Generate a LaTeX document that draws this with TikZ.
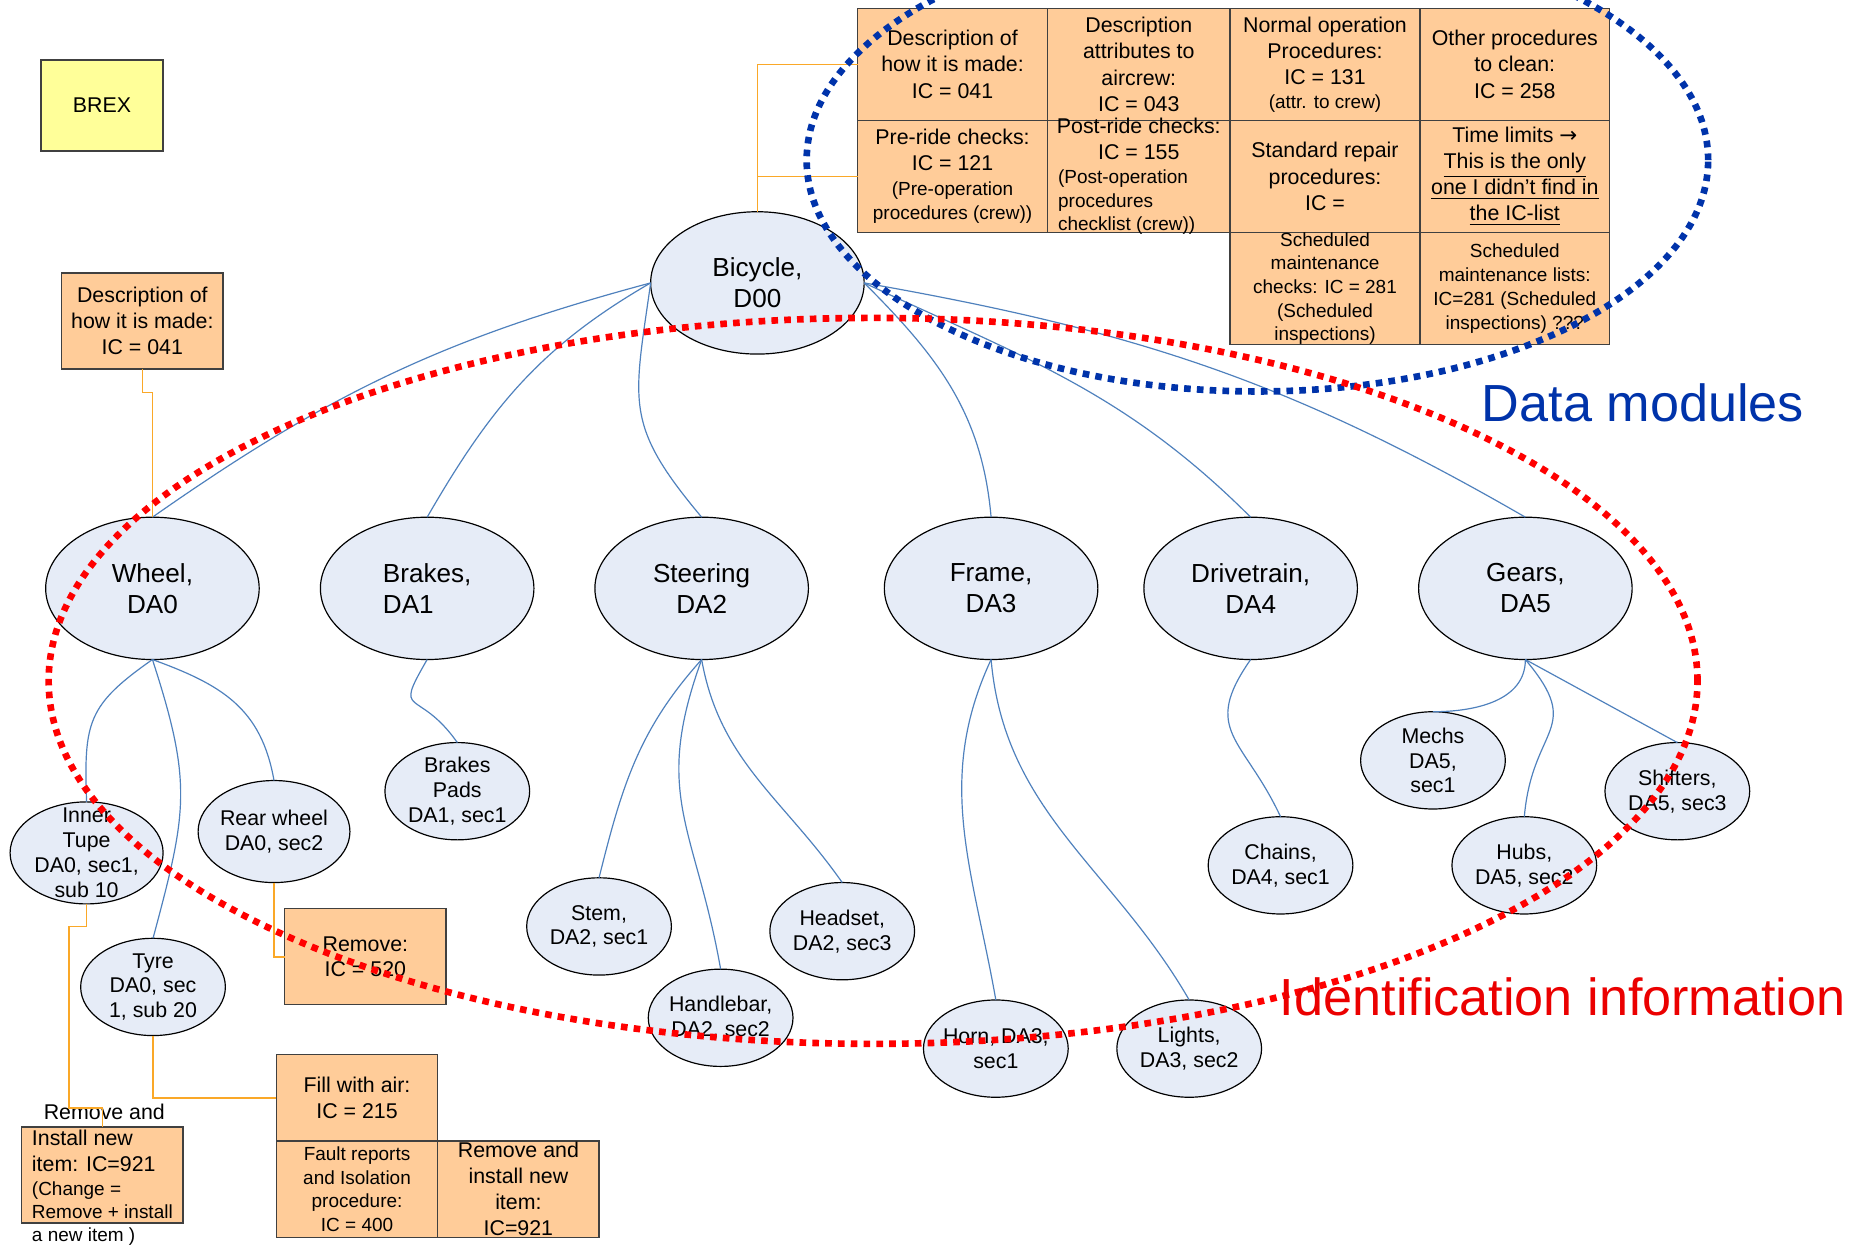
\documentclass[tikz,border=0pt]{standalone}
\usepackage{fontspec}
\setmainfont{Liberation Sans}
\newfontfamily\arrowfont{DejaVu Sans}
\usepackage{tikz}
\usetikzlibrary{shapes.geometric}
\usetikzlibrary{positioning}

\definecolor{partfill}{RGB}{230,236,247}
\definecolor{boxfill}{RGB}{255,204,153}
\definecolor{brexfill}{RGB}{255,255,153}
\definecolor{treeline}{RGB}{79,129,189}
\definecolor{icline}{RGB}{250,168,40}
\definecolor{dmblue}{RGB}{0,51,170}
\definecolor{idred}{RGB}{235,0,0}

\newcommand{\smalltxt}{\fontsize{8}{10}\selectfont}

\tikzset{
  part/.style={ellipse, draw=black, line width=0.5pt, fill=partfill, minimum width=90pt, minimum height=60pt, inner sep=0pt, outer sep=0pt, align=center, font=\fontsize{11}{13}\selectfont},
  subpart/.style={part, minimum width=61pt, minimum height=41pt, inner sep=-10pt, font=\fontsize{9}{10.5}\selectfont},
  icbox/.style={rectangle, draw=black!75, line width=0.6pt, fill=boxfill, minimum width=68pt, minimum height=40.5pt, inner sep=-15pt, outer sep=0pt, align=center, font=\fontsize{9}{11}\selectfont},
  cell/.style={icbox, minimum width=80pt, minimum height=47.25pt},
  tree/.style={draw=treeline, line width=0.5pt},
  icwire/.style={draw=icline, line width=0.7pt},
  dotring/.style={line width=2.8pt, dash pattern=on 2.8pt off 2.6pt},
}

\begin{document}
\begin{tikzpicture}[x=0.5pt, y=0.5pt]
\useasboundingbox[fill=white] (0,0) rectangle (1568,-1053);

    %nodes
    \node[part] (bicycle) at (638.5,-238.5) {Bicycle,\\D00};
    \node[part] (wheel) at (128.5,-496) {Wheel,\\DA0};
    \node[part, right=25.8pt of wheel, align=left] (brakes) {Brakes,\\DA1};
    \node[part, right=25.7pt of brakes] (steering) {Steering\\DA2};
    \node[part, right=32pt of steering] (frame) {Frame,\\DA3};
    \node[part, right=19.4pt of frame] (drivetrain) {Drivetrain,\\DA4};
    \node[part, right=25.8pt of drivetrain] (gears) {Gears,\\DA5};

    \node[subpart, minimum width=64.5pt, minimum height=43pt] (tupe) at (73,-719) {Inner\\Tupe\\DA0, sec1,\\sub 10};
    \node[subpart, minimum width=64pt, minimum height=43pt] (rear) at (231,-701) {Rear wheel\\DA0, sec2};
    \node[subpart] (tyre) at (129,-832) {Tyre\\DA0, sec\\1, sub 20};
    \node[subpart] (pads) at (385.5,-667) {Brakes\\Pads\\DA1, sec1};
    \node[subpart] (stem) at (505,-781) {Stem,\\DA2, sec1};
    \node[subpart] (handlebar) at (607.5,-858) {Handlebar,\\DA2, sec2};
    \node[subpart] (headset) at (710,-785) {Headset,\\DA2, sec3};
    \node[subpart] (horn) at (839.5,-884) {Horn, DA3,\\sec1};
    \node[subpart] (lights) at (1002.5,-884) {Lights,\\DA3, sec2};
    \node[subpart] (chains) at (1079.5,-729.5) {Chains,\\DA4, sec1};
    \node[subpart] (mechs) at (1208,-641) {Mechs\\DA5,\\sec1};
    \node[subpart] (hubs) at (1285,-729.5) {Hubs,\\DA5, sec2};
    \node[subpart] (shifters) at (1414,-667) {Shifters,\\DA5, sec3};

    % boxes
    \node[icbox, fill=brexfill, minimum width=51.4pt, minimum height=38.4pt] (brex) at (86,-89) {BREX};
    \node[icbox] (made) at (120,-270.5) {Description of\\how it is made:\\IC = 041};

    \node[cell] (c11) at (803,-54.25) {Description of\\how it is made:\\IC = 041};
    \node[cell, minimum width=77pt, right=0pt of c11] (c12) {Description\\attributes to\\aircrew:\\IC = 043};
    \node[cell, right=0pt of c12] (c13) {Normal operation\\Procedures:\\IC = 131\\[-1pt]\smalltxt (attr. to crew)};
    \node[cell, right=0pt of c13] (c14) {Other procedures\\to clean:\\IC = 258};
    \node[cell, below=0pt of c11] (c21) {Pre-ride checks:\\IC = 121\\[-0.5pt]\smalltxt (Pre-operation\\[-1pt]\smalltxt procedures (crew))};
    \node[cell, minimum width=77pt, below=0pt of c12] (c22) {Post-ride checks:\\IC = 155\\[-1pt]\makebox[68pt][l]{\smalltxt (Post-operation}\\[-1pt]\makebox[68pt][l]{\smalltxt procedures}\\[-1pt]\makebox[68pt][l]{\smalltxt checklist (crew))}};
    \node[cell, below=0pt of c13] (c23) {Standard repair\\procedures:\\IC =};
    \node[cell, below=0pt of c14] (c24) {Time limits {\arrowfont →}\\\underline{This is the only}\\\underline{one I didn’t find in}\\\underline{the IC-list}};
    \node[cell, font=\smalltxt, below=0pt of c23] (c33) {Scheduled\\maintenance\\checks: IC = 281\\(Scheduled\\inspections)};
    \node[cell, font=\smalltxt, below=0pt of c24] (c34) {Scheduled\\maintenance lists:\\IC=281 (Scheduled\\inspections) ???};

    \node[icbox] (remove) at (308,-806.5) {Remove:\\[-0.5pt]IC = 520};
    \node[icbox, minimum height=36.5pt] (fillair) at (301,-925.5) {Fill with air:\\IC = 215};
    \node[icbox, font=\smalltxt, below=0pt of fillair] (fault) {Fault reports\\and Isolation\\procedure:\\IC = 400};
    \node[icbox, right=0pt of fault] (reinstall) {Remove and\\install new\\item:\\IC=921};
    \node[icbox, align=left] (change) at (86.3,-990.5) {\hspace*{5pt}Remove and\\Install new\\item: IC=921\\[-1pt]\smalltxt (Change =\\[-1.5pt]\smalltxt Remove + install\\[-1pt]\smalltxt a new item )};

    % edges
    \draw[tree] (bicycle.west) to[out=195, in=35] (wheel.north);
    \draw[tree] (bicycle.west) to[out=210, in=60] (brakes.north);
    \draw[tree] (bicycle.west) to[out=262, in=130, looseness=1.3] (steering.north);
    \draw[tree] (bicycle.east) to[out=-45, in=95] (frame.north);
    \draw[tree] (bicycle.east) to[out=-25, in=135] (drivetrain.north);
    \draw[tree] (bicycle.east) to[out=-10, in=150] (gears.north);

    \draw[tree] (wheel.south) to[out=215, in=92, looseness=1.3] (tupe.north);
    \draw[tree] (wheel.south) to[out=-72, in=75, looseness=1.2] (tyre.north);
    \draw[tree] (wheel.south) to[out=-20, in=100, looseness=1.1] (rear.north);
    \draw[tree] (brakes.south) to[out=240, in=125, looseness=2] (pads.north);
    \draw[tree] (steering.south) to[out=228, in=76] (stem.north);
    \draw[tree] (steering.south) to[out=250, in=100, looseness=1.2] (handlebar.north);
    \draw[tree] (steering.south) to[out=-80, in=125] (headset.north);
    \draw[tree] (frame.south) to[out=245, in=100] (horn.north);
    \draw[tree] (frame.south) to[out=-85, in=120] (lights.north);
    \draw[tree] (drivetrain.south) to[out=235, in=115, looseness=1.4] (chains.north);
    \draw[tree] (gears.south) to[out=-90, in=0] (mechs.north);
    \draw[tree] (gears.south) to[out=-50, in=85, looseness=1.5] (hubs.north);
    \draw[tree] (gears.south) -- (shifters.north);

    % info codes
    \draw[icwire] (bicycle.north) |- (c11.west);
    \draw[icwire] (bicycle.north) |- (c21.west);
    \draw[icwire] (made.south) -- ++(0,-20) -| (wheel.north);
    \draw[icwire] (tupe.south) |- (58,-781) |- (86.3,-934) -- (change.north);
    \draw[icwire] (rear.south) |- (remove.west);
    \draw[icwire] (tyre.south) |- (fillair.west);

    % rings
    \draw[dotring, draw=dmblue] (1060,-135) ellipse [x radius=380, y radius=195];
    \draw[dotring, draw=red] (736,-574) ellipse [x radius=695, y radius=306];
    \node[font=\fontsize{22}{26}\selectfont, text=dmblue, anchor=base] (dm) at (1385,-355.5) {Data modules};
    \node[font=\fontsize{22}{26}\selectfont, text=idred, anchor=base] (ident) at (1317.5,-856) {Identification information};
\end{tikzpicture}
\end{document}
